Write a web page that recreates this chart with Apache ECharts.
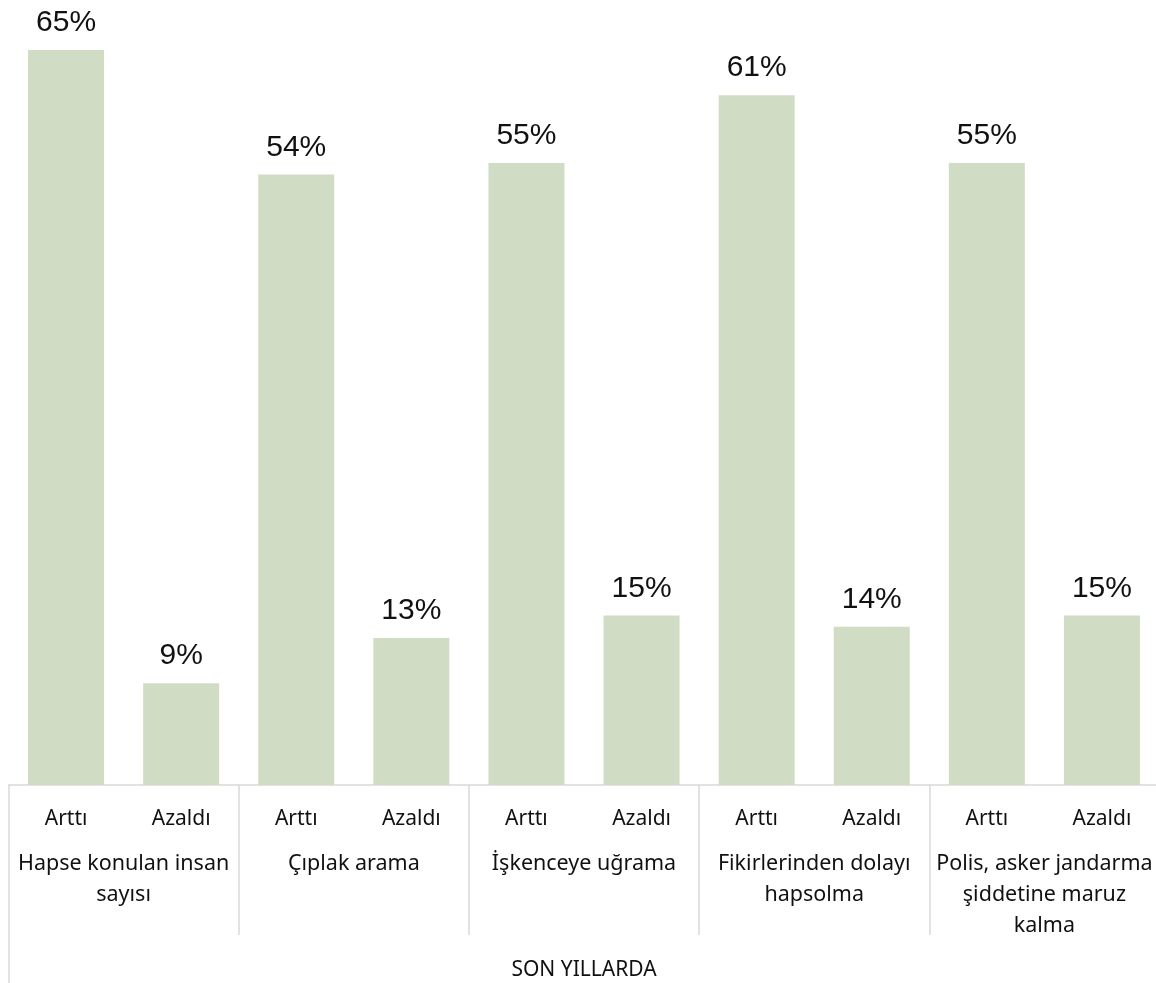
<!DOCTYPE html>
<html>
<head>
<meta charset="utf-8">
<script src="https://cdn.jsdelivr.net/npm/echarts@6/dist/echarts.min.js"></script>
<style>
html,body{margin:0;padding:0;background:#fff;overflow:hidden;}
#chart{width:1160px;height:983px;}
</style>
</head>
<body>
<div id="chart"></div>
<script>
const subCategories = ['Arttı','Azaldı','Arttı','Azaldı','Arttı','Azaldı','Arttı','Azaldı','Arttı','Azaldı'];
const groups = ['Hapse konulan insan\nsayısı','Çıplak arama','İşkenceye uğrama','Fikirlerinden dolayı\nhapsolma','Polis, asker jandarma\nşiddetine maruz\nkalma'];
const topGroup = ['SON YILLARDA'];
const values = [65, 9, 54, 13, 55, 15, 61, 14, 55, 15];

const FONT = 'Noto Sans';
const chart = echarts.init(document.getElementById('chart'));
chart.setOption({
  animation: false,
  textStyle: {fontFamily: FONT},
  grid: {left: 8.5, right: 0.5, top: 50, bottom: 198, containLabel: false},
  xAxis: [
    {
      type: 'category', data: subCategories, position: 'bottom',
      axisLine: {show: true, lineStyle: {color: '#d9d9d9', width: 1.5}},
      axisTick: {show: false},
      axisLabel: {interval: 0, color: '#111', fontSize: 21, fontFamily: FONT, margin: 24}
    },
    {
      type: 'category', data: groups, position: 'bottom',
      axisLine: {show: false},
      axisTick: {show: true, interval: 0, length: 150, lineStyle: {color: '#d9d9d9', width: 1.5}},
      axisLabel: {interval: 0, color: '#111', fontSize: 21.5, lineHeight: 31, fontFamily: FONT, margin: 63}
    },
    {
      type: 'category', data: topGroup, position: 'bottom',
      axisLine: {show: false},
      axisTick: {show: true, interval: 0, length: 200, lineStyle: {color: '#d9d9d9', width: 1.5}},
      axisLabel: {interval: 0, color: '#111', fontSize: 21, lineHeight: 22, fontFamily: FONT, margin: 174}
    }
  ],
  yAxis: {type: 'value', min: 0, max: 65, show: false},
  series: [{
    type: 'bar', xAxisIndex: 0, data: values, barWidth: 76,
    itemStyle: {color: '#d1dcc4'},
    label: {show: true, position: 'top', distance: 12, formatter: '{c}%', color: '#111', fontSize: 30, fontFamily: 'Liberation Sans'}
  }]
});
</script>
</body>
</html>
